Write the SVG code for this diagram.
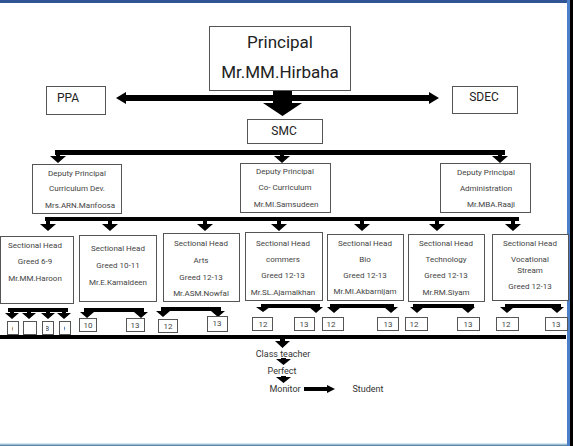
<svg xmlns="http://www.w3.org/2000/svg" width="573" height="446" viewBox="0 0 573 446">
<style>
  .bx{fill:#fff;stroke:#555;stroke-width:1}
  .sm{fill:#fff;stroke:#555;stroke-width:1}
  .t{font-family:Roboto,"Liberation Sans",sans-serif;fill:#444;text-anchor:middle}
  .big{font-size:17px;fill:#222}
  .mid{font-size:12px;fill:#222}
  .s8{font-size:8px}
  .s9{font-size:9px;fill:#333}
  .ar{fill:#000}
</style>
<defs>
  <clipPath id="c1"><rect x="8" y="322" width="5" height="12"/></clipPath>
  <clipPath id="c3"><rect x="46" y="322" width="4" height="12"/></clipPath>
  <clipPath id="c4"><rect x="64" y="322" width="5" height="12"/></clipPath>
</defs>
<rect x="0" y="0" width="573" height="446" fill="#fff"/>
<!-- frame -->
<rect x="0" y="0" width="573" height="3" fill="#2f5597"/>
<rect x="567" y="0" width="3" height="446" fill="#4d7ec8"/>
<rect x="570" y="0" width="3" height="446" fill="#000"/>
<rect x="0" y="443" width="567" height="1.5" fill="#cfe8f5"/>
<rect x="0" y="444.5" width="567" height="1.5" fill="#5b86a8"/>

<g id="connectors">
  <!-- principal double arrow -->
  <path class="ar" d="M116,98 L126,92 L126,95 L429,95 L429,92 L439,98 L429,104 L429,101 L126,101 L126,104 Z"/>
  <!-- principal down -->
  <path class="ar" d="M273,90 H292 V103 H302 L282.5,116 L263,103 H273 Z"/>
  <!-- deputy bar -->
  <rect class="ar" x="55" y="150" width="450" height="5"/>
  <path class="ar" d="M56,154 h4 v2 h6 l-8,7 l-8,-7 h6 z"/>
  <path class="ar" d="M280,154 h4 v2 h6 l-8,7 l-8,-7 h6 z"/>
  <path class="ar" d="M498,154 h4 v2 h6 l-8,7 l-8,-7 h6 z"/>
  <!-- sectional bar -->
  <rect class="ar" x="45" y="217" width="474" height="4"/>
  <path class="ar" d="M46,220 h4 v4 h6 l-8,7 l-8,-7 h6 z"/>
  <path class="ar" d="M108,220 h4 v4 h6 l-8,7 l-8,-7 h6 z"/>
  <path class="ar" d="M203,220 h4 v4 h6 l-8,7 l-8,-7 h6 z"/>
  <path class="ar" d="M277,220 h4 v4 h6 l-8,7 l-8,-7 h6 z"/>
  <path class="ar" d="M360,220 h4 v4 h6 l-8,7 l-8,-7 h6 z"/>
  <path class="ar" d="M435,220 h4 v4 h6 l-8,7 l-8,-7 h6 z"/>
  <path class="ar" d="M511,220 h4 v4 h6 l-8,7 l-8,-7 h6 z"/>
  <!-- group 1 -->
  <rect class="ar" x="8" y="308" width="60" height="4"/>
  <path class="ar" d="M10,311 h4 v2 h5 l-7,6 l-7,-6 h5 z"/>
  <path class="ar" d="M27,311 h4 v2 h5 l-7,6 l-7,-6 h5 z"/>
  <path class="ar" d="M46,311 h4 v2 h5 l-7,6 l-7,-6 h5 z"/>
  <path class="ar" d="M62,311 h4 v2 h5 l-7,6 l-7,-6 h5 z"/>
  <!-- group 2 -->
  <rect class="ar" x="84" y="308" width="60" height="4"/>
  <path class="ar" d="M85,311 h4 v1 h5 l-7,6 l-7,-6 h5 z"/>
  <path class="ar" d="M139,311 h4 v1 h5 l-7,6 l-7,-6 h5 z"/>
  <!-- group 3 -->
  <rect class="ar" x="161" y="307" width="60" height="4"/>
  <path class="ar" d="M161,310 h4 v1 h5 l-7,6 l-7,-6 h5 z"/>
  <path class="ar" d="M216,310 h4 v1 h5 l-7,6 l-7,-6 h5 z"/>
  <!-- group 4 -->
  <rect class="ar" x="261" y="304" width="59" height="4"/>
  <path class="ar" d="M261,307 h9 l-7,5 l-7,-5 h5 z"/>
  <path class="ar" d="M314,307 h9 l-7,6 l-7,-6 h5 z"/>
  <!-- group 5 -->
  <rect class="ar" x="330" y="304" width="64" height="4"/>
  <path class="ar" d="M332,307 h9 l-7,6 l-7,-6 h5 z"/>
  <path class="ar" d="M389,307 h9 l-7,6 l-7,-6 h5 z"/>
  <!-- group 6 -->
  <rect class="ar" x="413" y="304" width="61" height="4"/>
  <path class="ar" d="M415,307 h9 l-7,6 l-7,-6 h5 z"/>
  <path class="ar" d="M466,307 h9 l-7,6 l-7,-6 h5 z"/>
  <!-- group 7 -->
  <rect class="ar" x="505" y="304" width="56" height="4"/>
  <path class="ar" d="M505,307 h9 l-7,6 l-7,-6 h5 z"/>
  <path class="ar" d="M555,307 h9 l-7,6 l-7,-6 h5 z"/>
  <!-- bottom bar -->
  <rect class="ar" x="0" y="335" width="566" height="4"/>
  <path class="ar" d="M280,338 h5 v3 h5 l-7.5,7 l-7.5,-7 h5 z"/>
  <path class="ar" d="M281,358 h5 v1 h5 l-7.5,6 l-7.5,-6 h5 z"/>
  <path class="ar" d="M281,376 h5 v1 h5 l-7.5,6 l-7.5,-6 h5 z"/>
  <path class="ar" d="M304,387 H327 V385 L335,389 L327,393 V391 H304 Z"/>
</g>

<g id="principal">
  <rect class="bx" x="209.5" y="26.5" width="141" height="64" stroke="#444"/>
  <text class="t big" x="280" y="48">Principal</text>
  <text class="t big" x="280" y="78">Mr.MM.Hirbaha</text>
</g>
<g id="ppa">
  <rect class="bx" x="46.5" y="86.5" width="59" height="28"/>
  <text class="t mid" x="68" y="102">PPA</text>
</g>
<g id="sdec">
  <rect class="bx" x="452.5" y="86.5" width="65" height="27"/>
  <text class="t mid" x="484" y="101">SDEC</text>
</g>
<g id="smc">
  <rect class="bx" x="247.5" y="119.5" width="75" height="24"/>
  <text class="t mid" x="284" y="135">SMC</text>
</g>

<g id="dp1">
  <rect class="bx" x="32.5" y="164.5" width="89" height="49"/>
  <text class="t s8" x="77" y="176">Deputy Principal</text>
  <text class="t s8" x="77" y="191">Curriculum Dev.</text>
  <text class="t s8" x="80" y="208">Mrs.ARN.Manfoosa</text>
</g>
<g id="dp2">
  <rect class="bx" x="240.5" y="163.5" width="90" height="49"/>
  <text class="t s8" x="285" y="174">Deputy Principal</text>
  <text class="t s8" x="285" y="190">Co- Curriculum</text>
  <text class="t s8" x="286" y="207">Mr.MI.Samsudeen</text>
</g>
<g id="dp3">
  <rect class="bx" x="440.5" y="163.5" width="90" height="49"/>
  <text class="t s8" x="486" y="175">Deputy Principal</text>
  <text class="t s8" x="486" y="191">Administration</text>
  <text class="t s8" x="491" y="207">Mr.MBA.Raaji</text>
</g>

<g id="sh1">
  <rect class="bx" x="0.5" y="236.5" width="73" height="67"/>
  <text class="t s8" x="35" y="248">Sectional Head</text>
  <text class="t s8" x="35" y="264">Greed 6-9</text>
  <text class="t s8" x="35" y="281">Mr.MM.Haroon</text>
</g>
<g id="sh2">
  <rect class="bx" x="79.5" y="235.5" width="77" height="66"/>
  <text class="t s8" x="118" y="251">Sectional Head</text>
  <text class="t s8" x="118" y="268">Greed 10-11</text>
  <text class="t s8" x="118" y="285">Mr.E.Kamaldeen</text>
</g>
<g id="sh3">
  <rect class="bx" x="163.5" y="233.5" width="76" height="68"/>
  <text class="t s8" x="201" y="246">Sectional Head</text>
  <text class="t s8" x="201" y="263">Arts</text>
  <text class="t s8" x="201" y="280">Greed 12-13</text>
  <text class="t s8" x="201" y="296">Mr.ASM.Nowfal</text>
</g>
<g id="sh4">
  <rect class="bx" x="245.5" y="232.5" width="77" height="68"/>
  <text class="t s8" x="283" y="246">Sectional Head</text>
  <text class="t s8" x="283" y="262">commers</text>
  <text class="t s8" x="283" y="278">Greed 12-13</text>
  <text class="t s8" x="283" y="295">Mr.SL.Ajamalkhan</text>
</g>
<g id="sh5">
  <rect class="bx" x="327.5" y="234.5" width="76" height="66"/>
  <text class="t s8" x="365" y="246">Sectional Head</text>
  <text class="t s8" x="365" y="262">Bio</text>
  <text class="t s8" x="365" y="278">Greed 12-13</text>
  <text class="t s8" x="365" y="294">Mr.MI.Akbarnijam</text>
</g>
<g id="sh6">
  <rect class="bx" x="408.5" y="234.5" width="76" height="67"/>
  <text class="t s8" x="446" y="246">Sectional Head</text>
  <text class="t s8" x="446" y="262">Technology</text>
  <text class="t s8" x="446" y="278">Greed 12-13</text>
  <text class="t s8" x="446" y="295">Mr.RM.Siyam</text>
</g>
<g id="sh7">
  <rect class="bx" x="492.5" y="234.5" width="76" height="66"/>
  <text class="t s8" x="530" y="246">Sectional Head</text>
  <text class="t s8" x="530" y="262">Vocational</text>
  <text class="t s8" x="530" y="273">Stream</text>
  <text class="t s8" x="530" y="289">Greed 12-13</text>
</g>

<g id="g1boxes">
  <rect class="sm" x="7.5" y="321.5" width="11" height="13"/>
  <rect class="sm" x="23.5" y="321.5" width="13" height="13"/>
  <rect class="sm" x="42.5" y="321.5" width="11" height="13"/>
  <rect class="sm" x="59.5" y="321.5" width="11" height="13"/>
  <text class="t s8" x="14" y="331" clip-path="url(#c1)">6</text>
  <text class="t s8" x="47" y="331" clip-path="url(#c3)">8</text>
  <text class="t s8" x="63" y="331" clip-path="url(#c4)">9</text>
</g>
<g id="g2boxes">
  <rect class="sm" x="79.5" y="318.5" width="17" height="13"/>
  <text class="t s8" x="88" y="328">10</text>
  <rect class="sm" x="126.5" y="318.5" width="18" height="13"/>
  <text class="t s8" x="135" y="328">13</text>
</g>
<g id="g3boxes">
  <rect class="sm" x="158.5" y="319.5" width="19" height="13"/>
  <text class="t s8" x="168" y="329">12</text>
  <rect class="sm" x="207.5" y="316.5" width="20" height="15"/>
  <text class="t s8" x="217" y="326">13</text>
</g>
<g id="g4boxes">
  <rect class="sm" x="252.5" y="317.5" width="20" height="13"/>
  <text class="t s8" x="263" y="327">12</text>
  <rect class="sm" x="294.5" y="317.5" width="20" height="13"/>
  <text class="t s8" x="304" y="327">13</text>
</g>
<g id="g5boxes">
  <rect class="sm" x="322.5" y="317.5" width="21" height="13"/>
  <text class="t s8" x="331" y="327">12</text>
  <rect class="sm" x="377.5" y="317.5" width="21" height="13"/>
  <text class="t s8" x="388" y="327">13</text>
</g>
<g id="g6boxes">
  <rect class="sm" x="405.5" y="317.5" width="22" height="13"/>
  <text class="t s8" x="414" y="327">12</text>
  <rect class="sm" x="457.5" y="317.5" width="22" height="13"/>
  <text class="t s8" x="468" y="327">13</text>
</g>
<g id="g7boxes">
  <rect class="sm" x="496.5" y="317.5" width="22" height="13"/>
  <text class="t s8" x="506" y="327">12</text>
  <rect class="sm" x="545.5" y="317.5" width="22" height="13"/>
  <text class="t s8" x="556" y="327">13</text>
</g>

<g id="classteacher"><text class="t s9" x="283" y="357">Class teacher</text></g>
<g id="perfect"><text class="t s9" x="282" y="374">Perfect</text></g>
<g id="monitor"><text class="t s9" x="285" y="392">Monitor</text></g>
<g id="student"><text class="t s9" x="368" y="392">Student</text></g>
</svg>
